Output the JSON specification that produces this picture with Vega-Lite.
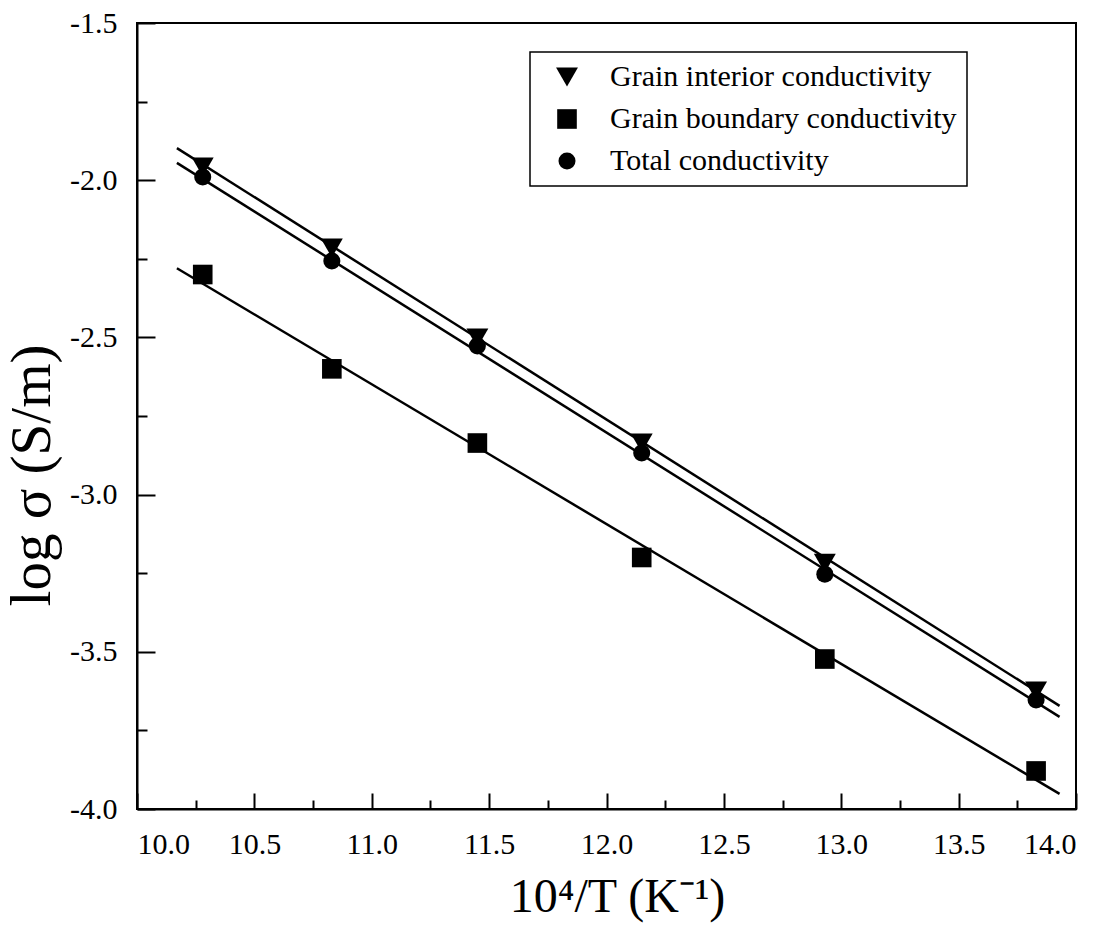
{
  "$schema": "https://vega.github.io/schema/vega-lite/v6.json",
  "width": 939,
  "height": 786,
  "autosize": "none",
  "padding": {"left": 137, "top": 23, "right": 37, "bottom": 127},
  "background": "white",
  "config": {
    "font": "Liberation Serif",
    "view": {"stroke": "black", "strokeWidth": 2},
    "legend": {"strokeColor": "black", "strokeWidth": 1.5},
    "axis": {
      "domainColor": "black",
      "domainWidth": 2,
      "tickColor": "black",
      "tickWidth": 2,
      "labelColor": "black",
      "labelFont": "Liberation Serif",
      "titleColor": "black",
      "titleFont": "Liberation Serif",
      "titleFontWeight": "normal",
      "grid": false
    }
  },
  "datasets": {
    "pts": [
      {"x": 10.28, "y": -1.958, "s": "Grain interior conductivity"},
      {"x": 10.83, "y": -2.216, "s": "Grain interior conductivity"},
      {"x": 11.45, "y": -2.502, "s": "Grain interior conductivity"},
      {"x": 12.15, "y": -2.836, "s": "Grain interior conductivity"},
      {"x": 12.93, "y": -3.218, "s": "Grain interior conductivity"},
      {"x": 13.83, "y": -3.625, "s": "Grain interior conductivity"},
      {"x": 10.28, "y": -2.30, "s": "Grain boundary conductivity"},
      {"x": 10.83, "y": -2.60, "s": "Grain boundary conductivity"},
      {"x": 11.45, "y": -2.836, "s": "Grain boundary conductivity"},
      {"x": 12.15, "y": -3.20, "s": "Grain boundary conductivity"},
      {"x": 12.93, "y": -3.523, "s": "Grain boundary conductivity"},
      {"x": 13.83, "y": -3.879, "s": "Grain boundary conductivity"},
      {"x": 10.28, "y": -1.99, "s": "Total conductivity"},
      {"x": 10.83, "y": -2.257, "s": "Total conductivity"},
      {"x": 11.45, "y": -2.527, "s": "Total conductivity"},
      {"x": 12.15, "y": -2.868, "s": "Total conductivity"},
      {"x": 12.93, "y": -3.253, "s": "Total conductivity"},
      {"x": 13.83, "y": -3.653, "s": "Total conductivity"}
    ],
    "fits": [
      {"x": 10.17, "y": -1.898, "s": "Grain interior conductivity"},
      {"x": 13.93, "y": -3.672, "s": "Grain interior conductivity"},
      {"x": 10.17, "y": -1.945, "s": "Total conductivity"},
      {"x": 13.93, "y": -3.707, "s": "Total conductivity"},
      {"x": 10.17, "y": -2.28, "s": "Grain boundary conductivity"},
      {"x": 13.93, "y": -3.952, "s": "Grain boundary conductivity"}
    ]
  },
  "layer": [
    {
      "data": {"name": "fits"},
      "mark": {"type": "line", "color": "black", "strokeWidth": 2.5},
      "encoding": {
        "x": {
          "field": "x", "type": "quantitative",
          "scale": {"domain": [10, 14], "nice": false, "zero": false},
          "axis": {
            "orient": "bottom",
            "values": [10, 10.5, 11, 11.5, 12, 12.5, 13, 13.5, 14],
            "format": ".1f",
            "tickSize": -16,
            "labelFontSize": 30,
            "labelPadding": 36,
            "title": "10⁴/T (K⁻¹)",
            "titleFontSize": 48,
            "titlePadding": 14,
            "titleX": 480
          }
        },
        "y": {
          "field": "y", "type": "quantitative",
          "scale": {"domain": [-4, -1.5], "nice": false, "zero": false},
          "axis": {
            "orient": "left",
            "values": [-4, -3.5, -3, -2.5, -2, -1.5],
            "format": ".1f",
            "labelExpr": "replace(datum.label, '−', '-')",
            "tickSize": -18,
            "labelFontSize": 30,
            "labelPadding": 38,
            "title": "log σ (S/m)",
            "titleFontSize": 57,
            "titlePadding": 8,
            "titleY": 452
          }
        },
        "detail": {"field": "s"}
      }
    },
    {
      "data": {"name": "pts"},
      "mark": {"type": "point", "filled": true, "color": "black", "opacity": 1},
      "encoding": {
        "x": {
          "field": "x", "type": "quantitative",
          "axis": {
            "orient": "bottom",
            "values": [10.25, 10.75, 11.25, 11.75, 12.25, 12.75, 13.25, 13.75],
            "labels": false,
            "domain": false,
            "tickSize": -9,
            "title": null
          }
        },
        "y": {
          "field": "y", "type": "quantitative",
          "axis": {
            "orient": "left",
            "values": [-3.75, -3.25, -2.75, -2.25, -1.75],
            "labels": false,
            "domain": false,
            "tickSize": -10,
            "title": null
          }
        },
        "shape": {
          "field": "s", "type": "nominal",
          "scale": {
            "domain": ["Grain interior conductivity", "Grain boundary conductivity", "Total conductivity"],
            "range": ["triangle-down", "square", "circle"]
          },
          "legend": {
            "title": null,
            "orient": "none",
            "legendX": 393,
            "legendY": 29,
            "strokeColor": "black",
            "fillColor": "white",
            "padding": 10,
            "symbolOffset": 12,
            "symbolFillColor": "black",
            "symbolStrokeColor": "black",
            "labelFont": "Liberation Serif",
            "labelFontSize": 30,
            "labelColor": "black",
            "labelOffset": 28,
            "rowPadding": 12,
            "labelLimit": 600
          }
        },
        "size": {
          "field": "s", "type": "nominal",
          "scale": {
            "domain": ["Grain interior conductivity", "Grain boundary conductivity", "Total conductivity"],
            "range": [480, 290, 400]
          }
        }
      }
    }
  ],
  "resolve": {"axis": {"x": "independent", "y": "independent"}}
}
